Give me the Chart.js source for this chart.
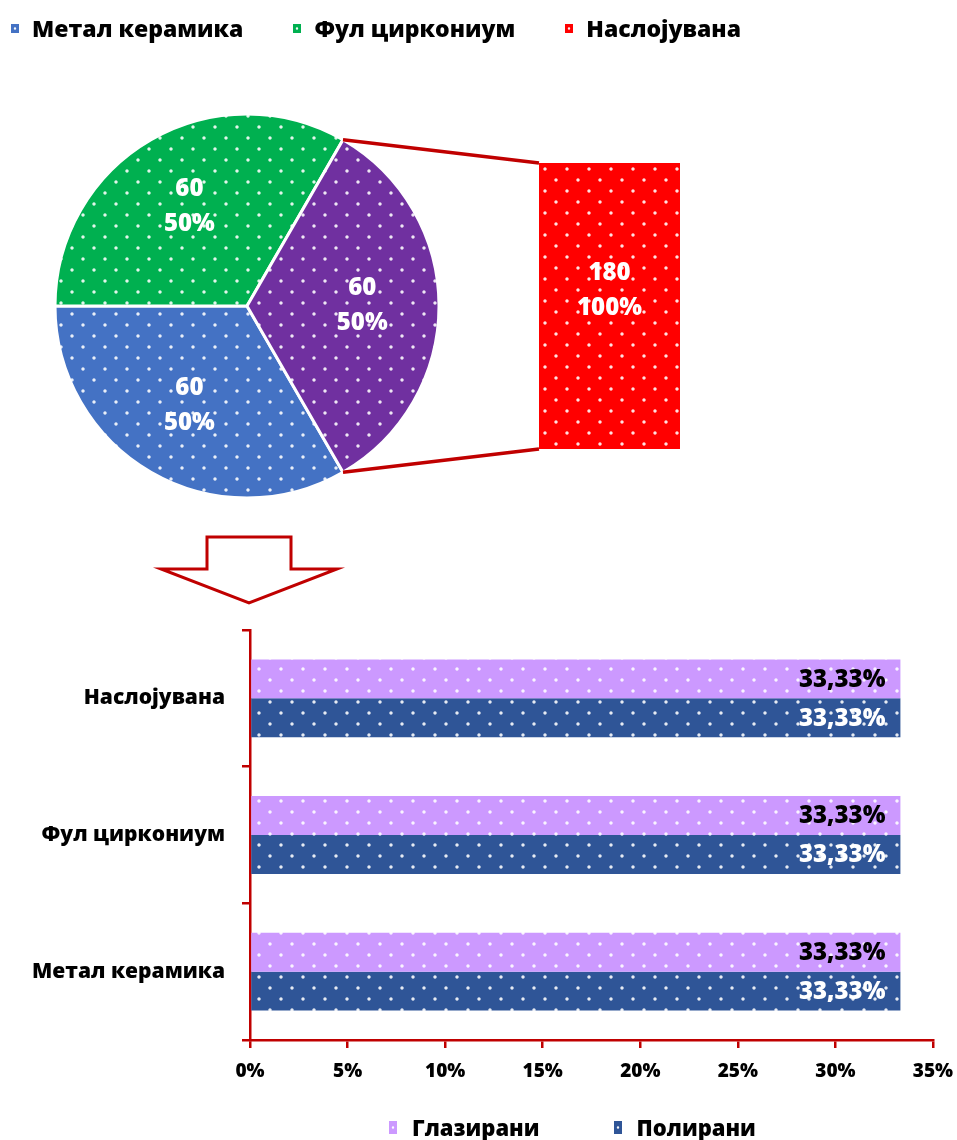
<!DOCTYPE html>
<html lang="mk">
<head>
<meta charset="utf-8">
<title>Типови на круни и обработка на површината</title>
<script src="https://cdn.jsdelivr.net/npm/chart.js@4.4.1/dist/chart.umd.min.js"></script>
<style>
  html, body { margin: 0; padding: 0; background: #fff; }
  #stage { position: relative; width: 957px; height: 1140px; overflow: hidden; background: #fff; }
  #stage canvas { position: absolute; }
  .legend { position: absolute; display: flex; align-items: center; font-family: 'Open Sans', sans-serif;
            font-weight: 800; color: #000; white-space: nowrap; }
  .legend .item { display: flex; align-items: center; }
  .legend .sw { display: inline-block; flex: none; }
</style>
</head>
<body>
<div id="stage">
  <canvas id="pieCanvas" width="957" height="520" style="left:0;top:0"></canvas>
  <canvas id="splitCanvas" width="141" height="286" style="left:539px;top:163px"></canvas>
  <canvas id="barCanvas" width="957" height="620" style="left:0;top:520px"></canvas>
  <div id="pieLegend" class="legend" style="left:11px;top:11px;height:34px;line-height:34px;font-size:23px"></div>
  <div id="barLegend" class="legend" style="left:389px;top:1110px;height:34px;line-height:34px;font-size:22px"></div>
</div>
<script>
// Crown types (pie)
const pieCategories = ['Метал керамика', 'Фул циркониум', 'Наслојувана'];
const pieValues = [60, 60, 60];
const piePercents = [50, 50, 50];

// Slice broken out into the column beside the pie
const splitCategories = ['Наслојувана'];
const splitValues = [180];
const splitPercents = [100];

// Surface finish per crown type (horizontal bars), top to bottom
const barCategories = ['Наслојувана', 'Фул циркониум', 'Метал керамика'];
const seriesNames = ['Глазирани', 'Полирани'];
const glazedValues = [33.33, 33.33, 33.33];
const polishedValues = [33.33, 33.33, 33.33];
const percentTicks = [0, 5, 10, 15, 20, 25, 30, 35];

const FONT = "'Open Sans', sans-serif";
const WEIGHT = '800';
const AXIS_RED = '#C00000';
const pieColors = ['#4472C4', '#00B050', '#7030A0'];
const splitColor = '#FF0000';
const glazedColor = '#CC99FF';
const polishedColor = '#2F5597';

// Solid fill sprinkled with small white dots in staggered rows
function dotted(color) {
  const t = document.createElement('canvas');
  t.width = 22; t.height = 22;
  const g = t.getContext('2d');
  g.fillStyle = color;
  g.fillRect(0, 0, 22, 22);
  [[5, 5], [16, 16]].forEach(([x, y]) => {
    const grad = g.createRadialGradient(x + 1, y + 1, 0, x + 1, y + 1, 2.2);
    grad.addColorStop(0, 'rgba(255,255,255,1)');
    grad.addColorStop(0.55, 'rgba(255,255,255,0.8)');
    grad.addColorStop(1, 'rgba(255,255,255,0)');
    g.fillStyle = grad;
    g.fillRect(x - 2, y - 2, 6, 6);
  });
  return g.createPattern(t, 'repeat');
}

function sum(arr) { return arr.reduce((a, b) => a + b, 0); }

// Two-line value / percentage labels inside pie slices
const pieLabels = {
  id: 'pieLabels',
  afterDatasetsDraw(chart) {
    const ctx = chart.ctx;
    const ds = chart.data.datasets[0];
    const meta = chart.getDatasetMeta(0);
    ctx.save();
    ctx.font = `${WEIGHT} 24px ${FONT}`;
    ctx.fillStyle = '#fff';
    ctx.textAlign = 'center';
    ctx.textBaseline = 'middle';
    meta.data.forEach((arc, i) => {
      const mid = (arc.startAngle + arc.endAngle) / 2;
      const r = arc.outerRadius * 0.6;
      const x = arc.x + Math.cos(mid) * r;
      const y = arc.y + Math.sin(mid) * r;
      ctx.fillText(String(ds.data[i]), x, y - 17.5);
      ctx.fillText(ds.percents[i] + '%', x, y + 17.5);
    });
    ctx.restore();
  }
};

// Label in the broken-out column
const splitLabels = {
  id: 'splitLabels',
  afterDatasetsDraw(chart) {
    const ctx = chart.ctx;
    const ds = chart.data.datasets[0];
    const meta = chart.getDatasetMeta(0);
    ctx.save();
    ctx.font = `${WEIGHT} 24px ${FONT}`;
    ctx.fillStyle = '#fff';
    ctx.textAlign = 'center';
    ctx.textBaseline = 'middle';
    meta.data.forEach((bar, i) => {
      const cy = (bar.y + bar.base) / 2 - 15;
      ctx.fillText(String(ds.data[i]), bar.x, cy - 17.5);
      ctx.fillText(ds.percents[i] + '%', bar.x, cy + 17.5);
    });
    ctx.restore();
  }
};

const splitChart = new Chart(document.getElementById('splitCanvas'), {
  type: 'bar',
  data: {
    labels: splitCategories,
    datasets: [{
      label: splitCategories[0],
      data: splitValues,
      percents: splitPercents,
      swatch: splitColor,
      backgroundColor: dotted(splitColor),
      borderWidth: 0,
      barPercentage: 1,
      categoryPercentage: 1
    }]
  },
  options: {
    responsive: false,
    animation: false,
    events: [],
    devicePixelRatio: 1,
    layout: { padding: 0 },
    scales: {
      x: { display: false },
      y: { display: false, min: 0, max: sum(splitValues) }
    },
    plugins: { legend: { display: false }, tooltip: { enabled: false } }
  },
  plugins: [splitLabels]
});

// Lines joining the split slice to the column beside the pie
const connectors = {
  id: 'connectors',
  afterDatasetsDraw(chart) {
    const meta = chart.getDatasetMeta(0);
    const idx = chart.data.labels.indexOf(splitCategories[0]);
    const arc = meta.data[idx];
    const col = splitChart.getDatasetMeta(0).data[0];
    const cv = splitChart.canvas;
    const left = cv.offsetLeft + col.x - col.width / 2;
    const top = cv.offsetTop + Math.min(col.y, col.base);
    const bottom = cv.offsetTop + Math.max(col.y, col.base);
    const r = arc.outerRadius;
    const p0 = [arc.x + Math.cos(arc.startAngle) * r, arc.y + Math.sin(arc.startAngle) * r];
    const p1 = [arc.x + Math.cos(arc.endAngle) * r, arc.y + Math.sin(arc.endAngle) * r];
    const ctx = chart.ctx;
    ctx.save();
    ctx.strokeStyle = AXIS_RED;
    ctx.lineWidth = 3.5;
    ctx.beginPath();
    ctx.moveTo(p0[0], p0[1]); ctx.lineTo(left, top);
    ctx.moveTo(p1[0], p1[1]); ctx.lineTo(left, bottom);
    ctx.stroke();
    ctx.restore();
  }
};

const pieChart = new Chart(document.getElementById('pieCanvas'), {
  type: 'pie',
  data: {
    labels: pieCategories,
    datasets: [{
      data: pieValues,
      percents: piePercents,
      backgroundColor: pieColors.map(dotted),
      borderColor: '#fff',
      borderWidth: 3,
      radius: 192
    }]
  },
  options: {
    responsive: false,
    animation: false,
    events: [],
    devicePixelRatio: 1,
    rotation: 150,
    radius: 192,
    layout: { padding: { top: 92, right: 463, bottom: 0, left: 0 } },
    plugins: { legend: { display: false }, tooltip: { enabled: false } }
  },
  plugins: [connectors, pieLabels]
});

// Value labels at the end of each horizontal bar
const barValueLabels = {
  id: 'barValueLabels',
  afterDatasetsDraw(chart) {
    const ctx = chart.ctx;
    ctx.save();
    ctx.font = `${WEIGHT} 24px ${FONT}`;
    ctx.textAlign = 'right';
    ctx.textBaseline = 'middle';
    chart.data.datasets.forEach((ds, di) => {
      ctx.fillStyle = ds.valueColor;
      chart.getDatasetMeta(di).data.forEach((bar, i) => {
        const txt = ds.data[i].toFixed(2).replace('.', ',') + '%';
        ctx.fillText(txt, bar.x - 15, bar.y + 1);
      });
    });
    ctx.restore();
  }
};

// Outlined arrow pointing from the pie down to the bar chart
const downArrow = {
  id: 'downArrow',
  beforeDraw(chart) {
    const { left, top } = chart.chartArea;
    const cx = left - 1, tip = top - 27;
    const ctx = chart.ctx;
    ctx.save();
    ctx.beginPath();
    ctx.moveTo(cx - 42, tip - 66);
    ctx.lineTo(cx + 42, tip - 66);
    ctx.lineTo(cx + 42, tip - 34);
    ctx.lineTo(cx + 88, tip - 34);
    ctx.lineTo(cx, tip);
    ctx.lineTo(cx - 88, tip - 34);
    ctx.lineTo(cx - 42, tip - 34);
    ctx.closePath();
    ctx.fillStyle = '#fff';
    ctx.fill();
    ctx.lineWidth = 3;
    ctx.lineJoin = 'miter';
    ctx.strokeStyle = AXIS_RED;
    ctx.stroke();
    ctx.restore();
  }
};

const barChart = new Chart(document.getElementById('barCanvas'), {
  type: 'bar',
  data: {
    labels: barCategories,
    datasets: [
      { label: seriesNames[0], data: glazedValues, backgroundColor: dotted(glazedColor), swatch: glazedColor, valueColor: '#000' },
      { label: seriesNames[1], data: polishedValues, backgroundColor: dotted(polishedColor), swatch: polishedColor, valueColor: '#fff' }
    ]
  },
  options: {
    indexAxis: 'y',
    responsive: false,
    animation: false,
    events: [],
    devicePixelRatio: 1,
    datasets: { bar: { categoryPercentage: 0.57, barPercentage: 1, borderWidth: 0 } },
    layout: { padding: { top: 110, right: 24, bottom: 0, left: 0 } },
    scales: {
      x: {
        type: 'linear',
        min: percentTicks[0],
        max: percentTicks[percentTicks.length - 1],
        afterBuildTicks: s => { s.ticks = percentTicks.map(v => ({ value: v })); },
        afterFit: s => { s.height = 100; s.paddingLeft = 0; s.paddingRight = 0; },
        ticks: {
          callback: v => v + '%',
          color: '#000',
          font: { family: FONT, weight: WEIGHT, size: 19 },
          padding: 12,
          maxRotation: 0,
          autoSkip: false
        },
        grid: { drawOnChartArea: false, color: AXIS_RED, lineWidth: 2.5, tickLength: 8 },
        border: { color: AXIS_RED, width: 2.5 }
      },
      y: {
        afterFit: s => { s.width = 250; },
        ticks: { color: '#000', font: { family: FONT, weight: WEIGHT, size: 21 }, padding: 17 },
        grid: { drawOnChartArea: false, color: AXIS_RED, lineWidth: 2.5, tickLength: 8 },
        border: { color: AXIS_RED, width: 2.5 }
      }
    },
    plugins: { legend: { display: false }, tooltip: { enabled: false } }
  },
  plugins: [downArrow, barValueLabels]
});

// HTML legends built from the charts' own labels and colours
function buildLegend(el, entries, swW, swH, textGap, itemGap) {
  entries.forEach((e, i) => {
    const item = document.createElement('div');
    item.className = 'item';
    if (i < entries.length - 1) item.style.marginRight = itemGap + 'px';
    const sw = document.createElement('span');
    sw.className = 'sw';
    sw.style.width = swW + 'px';
    sw.style.height = swH + 'px';
    sw.style.marginRight = textGap + 'px';
    sw.style.backgroundColor = e.color;
    sw.style.backgroundImage = 'radial-gradient(circle at 50% 50%, rgba(255,255,255,0.95) 0.8px, rgba(255,255,255,0) 1.6px)';
    const tx = document.createElement('span');
    tx.textContent = e.text;
    item.appendChild(sw);
    item.appendChild(tx);
    el.appendChild(item);
  });
}

const pieEntries = pieChart.data.labels
  .map((t, i) => ({ text: t, color: pieColors[i] }))
  .filter(e => !splitCategories.includes(e.text))
  .concat(splitChart.data.datasets.map(d => ({ text: d.label, color: d.swatch })));
buildLegend(document.getElementById('pieLegend'), pieEntries, 8, 9, 13, 50);

const barEntries = barChart.data.datasets.map(d => ({ text: d.label, color: d.swatch }));
buildLegend(document.getElementById('barLegend'), barEntries, 8, 13, 15, 74);
</script>
</body>
</html>
